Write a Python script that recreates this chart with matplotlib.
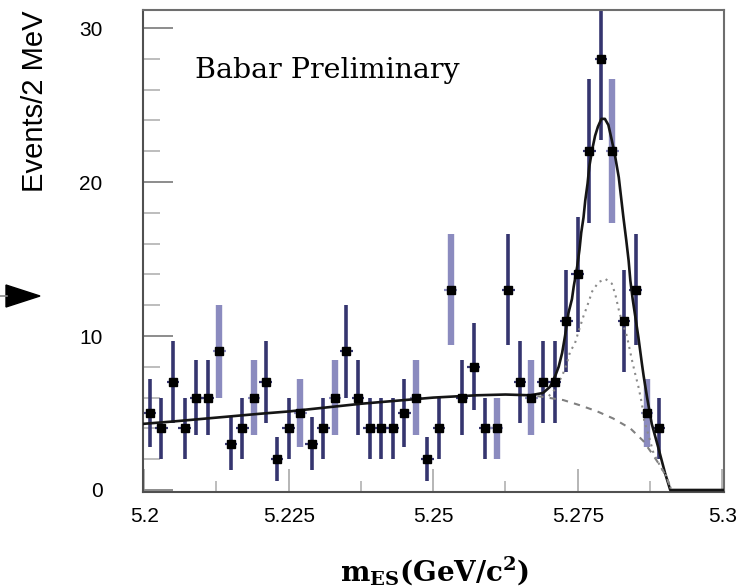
import matplotlib
matplotlib.use('Agg')
import matplotlib.pyplot as plt
import numpy as np
from matplotlib.patches import Polygon
from matplotlib.ticker import MultipleLocator

# histogram: 2 MeV bins starting at 5.200 GeV
bin_start = 5.200
bin_width = 0.002
counts = [5, 4, 7, 4, 6, 6, 9, 3, 4, 6, 7, 2, 4, 5, 3, 4, 6, 9, 6, 4,
          4, 4, 5, 6, 2, 4, 13, 6, 8, 4, 4, 13, 7, 6, 7, 7, 11, 14, 22, 28,
          22, 11, 13, 5, 4]
light_bins = [6, 9, 13, 16, 23, 26, 30, 33, 40, 43]

# fit curves (m_ES, events)
total_m = [5.2000, 5.2050, 5.2125, 5.2200, 5.2250, 5.2375, 5.2500, 5.2575,
           5.2625, 5.2668, 5.2690, 5.2702, 5.2711, 5.2717, 5.2723, 5.2728,
           5.2734, 5.2740, 5.2743, 5.2749, 5.2753, 5.2756, 5.2760, 5.2763,
           5.2767, 5.2770, 5.2775, 5.2780, 5.2785, 5.2791, 5.2797, 5.2803,
           5.2809, 5.2815, 5.2821, 5.2825, 5.2829, 5.2834, 5.2838, 5.2841,
           5.2845, 5.2855, 5.2861, 5.2864, 5.2870, 5.2878, 5.2889, 5.2895,
           5.2901, 5.2910, 5.3003]
total_y = [4.3, 4.45, 4.7, 4.95, 5.1, 5.6, 6.0, 6.15,
           6.2, 6.15, 6.3, 6.7, 7.4, 8.0, 8.9, 10.0,
           11.5, 12.4, 13.2, 14.5, 15.6, 16.7, 17.7, 18.8,
           19.9, 21.0, 22.1, 23.0, 23.6, 24.1, 24.1, 23.7,
           22.7, 21.6, 20.3, 19.0, 17.7, 16.2, 14.9, 13.6,
           12.4, 9.9, 8.2, 7.4, 6.0, 4.3, 2.8, 1.95,
           1.1, 0.0, 0.0]

bkg_m = [5.2680, 5.2725, 5.2754, 5.2784, 5.2811, 5.2841, 5.2863, 5.2878,
         5.2892, 5.2903, 5.2912]
bkg_y = [6.1, 5.84, 5.5, 5.1, 4.65, 4.0, 3.2, 2.4, 1.6, 0.9, 0.0]

peak_m = [5.2700, 5.2712, 5.2724, 5.2731, 5.2737, 5.2745, 5.2749, 5.2760,
          5.2766, 5.2775, 5.2786, 5.2798, 5.2809, 5.2815, 5.2821, 5.2826,
          5.2835, 5.2844, 5.2849, 5.2855, 5.2861, 5.2865, 5.2873, 5.2881,
          5.2892, 5.2903, 5.2912]
peak_y = [6.1, 6.6, 7.5, 8.2, 9.0, 9.5, 10.0, 11.3,
          11.9, 12.9, 13.5, 13.7, 13.4, 12.7, 11.7, 11.0,
          10.0, 8.4, 7.6, 6.7, 5.6, 4.5, 3.5, 2.4,
          1.6, 0.9, 0.0]

x_ticks = [5.2, 5.225, 5.25, 5.275, 5.3]
x_ticklabels = ['5.2', '5.225', '5.25', '5.275', '5.3']
y_ticks = [0, 10, 20, 30]

dark = '#35356f'
light = '#8b8bbf'

fig = plt.figure(figsize=(7.41, 5.87), dpi=100)
ax = fig.add_axes([143 / 741, 95 / 587, 581 / 741, 482 / 587])

centers = bin_start + bin_width * (np.arange(len(counts)) + 0.5)
y = np.array(counts, dtype=float)
err = np.sqrt(y)
is_light = np.zeros(len(counts), dtype=bool)
is_light[light_bins] = True

for mask, col, lw in [(~is_light, dark, 2.6), (is_light, light, 4.6)]:
    ax.errorbar(centers[mask], y[mask], yerr=err[mask], fmt='none',
                ecolor=col, elinewidth=lw, capsize=0, zorder=2)
    ax.errorbar(centers[mask], y[mask], xerr=0.0011, fmt='none',
                ecolor=col, elinewidth=1.6, capsize=0, zorder=2)

ax.plot(total_m, total_y, color='#151515', lw=1.9, zorder=3,
        solid_joinstyle='round')
ax.plot(bkg_m, bkg_y, color='#808080', lw=1.5, ls=(0, (3, 3)), zorder=3)
ax.plot(peak_m, peak_y, color='#8a8a8a', lw=1.5, ls=(0, (1, 2.2)), zorder=3)
ax.plot(centers, y, 's', color='black', ms=5.2, zorder=4)

ax.set_xlim(5.1998, 5.3003)
ax.set_ylim(-0.13, 31.17)

ax.set_xticks(x_ticks)
ax.set_xticklabels(x_ticklabels)
ax.set_yticks(y_ticks)
ax.xaxis.set_minor_locator(MultipleLocator(0.0125))
ax.yaxis.set_minor_locator(MultipleLocator(2))

ax.tick_params(axis='x', which='major', direction='in', length=16.5, width=1.4,
               color='#b5b5b5', pad=11, labelsize=15)
ax.tick_params(axis='x', which='minor', direction='in', length=8, width=1.4,
               color='#bdbdbd')
ax.tick_params(axis='y', which='major', direction='in', length=21.5, width=1.4,
               color='#8c8c8c', pad=29, labelsize=15)
ax.tick_params(axis='y', which='minor', direction='in', length=12, width=1.4,
               color='#bdbdbd')
for lab in ax.get_xticklabels() + ax.get_yticklabels():
    lab.set_family('Liberation Sans')

for side in ['top', 'right', 'bottom', 'left']:
    ax.spines[side].set_color('#6e6e6e')
    ax.spines[side].set_linewidth(1.5)
ax.spines['left'].set_color('#505050')
ax.spines['bottom'].set_color('#505050')

ax.text((195 - 143) / 581, (492 - 78) / 482, 'Babar Preliminary',
        transform=ax.transAxes, family='DejaVu Serif', fontsize=20.5,
        va='baseline', ha='left')

fig.text(35 / 741, 1 - 11 / 587, 'Events/2 MeV', rotation=90,
         family='Liberation Sans', fontsize=21, ha='center', va='top')

plt.rcParams['mathtext.fontset'] = 'dejavuserif'
fig.text(435 / 741, 1 - 571 / 587,
         r'$\mathbf{m}_{\mathbf{ES}}$(GeV/c$^{\mathbf{2}}$)',
         family='DejaVu Serif', weight='bold', fontsize=20,
         ha='center', va='center')

# arrow marker at the left edge
fig.add_artist(plt.Line2D([0, 7 / 741], [1 - 296 / 587] * 2,
                          color='#888888', lw=1.2, transform=fig.transFigure))
fig.add_artist(Polygon([[6 / 741, 1 - 285 / 587], [6 / 741, 1 - 307 / 587],
                        [40 / 741, 1 - 296 / 587]], closed=True,
                       color='black', transform=fig.transFigure))

fig.savefig('out.png', dpi=100)
